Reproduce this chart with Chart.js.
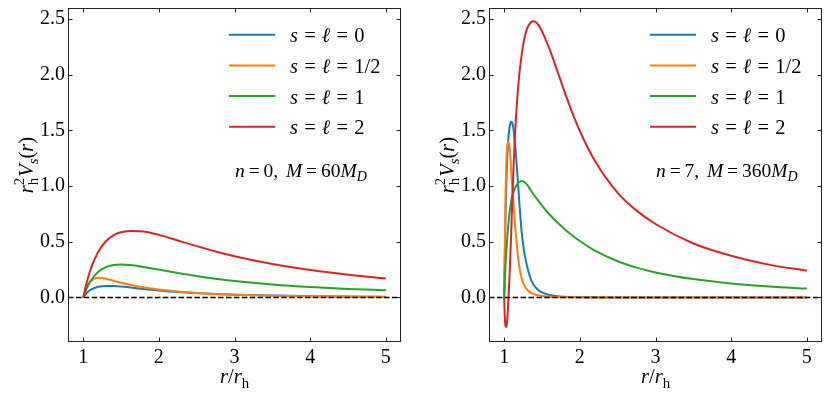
<!DOCTYPE html>
<html>
<head>
<meta charset="utf-8">
<script src="https://cdn.jsdelivr.net/npm/chart.js@4.4.1/dist/chart.umd.min.js"></script>
<style>
  body { margin: 0; background: #fff; width: 831px; height: 399px; position: relative; overflow: hidden; }
  canvas { position: absolute; top: 0; }
  #left-chart { left: 0; }
  #right-chart { left: 420px; }
</style>
</head>
<body>
<canvas id="left-chart" width="410" height="399"></canvas>
<canvas id="right-chart" width="411" height="399"></canvas>
<script>
// tick values and series labels
const xTicks = [1, 2, 3, 4, 5];
const yTicks = [0, 0.5, 1, 1.5, 2, 2.5];
const seriesLabels = ['s = ℓ = 0', 's = ℓ = 1/2', 's = ℓ = 1', 's = ℓ = 2'];
const seriesColors = ['#1f77b4', '#ff7f0e', '#2ca02c', '#d62728'];

// left panel: n = 0, M = 60 M_D
const rLeft = [1, 1.05, 1.1, 1.2, 1.3, 1.4, 1.5, 1.65, 1.8, 2, 2.25, 2.5, 2.75, 3, 3.5, 4, 4.5, 5];
const leftS0 = [0, 0.042, 0.068, 0.096, 0.104, 0.103, 0.098, 0.087, 0.076, 0.063, 0.049, 0.039, 0.031, 0.025, 0.017, 0.012, 0.0085, 0.0065];
const leftS12 = [0, 0.095, 0.145, 0.178, 0.168, 0.150, 0.132, 0.110, 0.091, 0.071, 0.053, 0.040, 0.031, 0.024, 0.015, 0.010, 0.007, 0.005];
const leftS1 = [0, 0.086, 0.150, 0.231, 0.273, 0.292, 0.296, 0.289, 0.274, 0.250, 0.220, 0.192, 0.168, 0.148, 0.117, 0.094, 0.077, 0.064];
const leftS2 = [0, 0.14, 0.255, 0.41, 0.505, 0.558, 0.585, 0.597, 0.592, 0.562, 0.512, 0.461, 0.413, 0.37, 0.30, 0.246, 0.205, 0.171];

// right panel: n = 7, M = 360 M_D
const rRight = [1, 1.01, 1.02, 1.03, 1.045, 1.06, 1.075, 1.09, 1.1, 1.12, 1.14, 1.16, 1.18, 1.2, 1.23, 1.26, 1.3, 1.35, 1.39, 1.45, 1.5, 1.6, 1.7, 1.8, 1.9, 2, 2.2, 2.5, 2.75, 3, 3.5, 4, 4.5, 5];
const rightS0 = [0, 0.40, 0.78, 1.05, 1.31, 1.46, 1.54, 1.575, 1.578, 1.53, 1.40, 1.25, 1.06, 0.86, 0.60, 0.43, 0.29, 0.17, 0.115, 0.068, 0.045, 0.022, 0.012, 0.007, 0.004, 0.0025, 0.001, 0, 0, 0, 0, 0, 0, 0];
const rightS12 = [0, 0.55, 0.98, 1.24, 1.385, 1.395, 1.33, 1.17, 1.06, 0.87, 0.69, 0.53, 0.39, 0.28, 0.175, 0.115, 0.072, 0.043, 0.03, 0.019, 0.014, 0.007, 0.004, 0.002, 0.001, 0.001, 0, 0, 0, 0, 0, 0, 0, 0];
const rightS1 = [0, 0.17, 0.31, 0.42, 0.57, 0.69, 0.78, 0.85, 0.89, 0.94, 0.975, 1.005, 1.025, 1.037, 1.045, 1.04, 1.015, 0.965, 0.925, 0.87, 0.825, 0.745, 0.675, 0.613, 0.557, 0.507, 0.42, 0.325, 0.268, 0.225, 0.165, 0.126, 0.099, 0.08];
const rightS2 = [0, -0.19, -0.26, -0.265, -0.16, 0.03, 0.25, 0.52, 0.72, 1.10, 1.42, 1.66, 1.85, 2.0, 2.17, 2.30, 2.41, 2.47, 2.48, 2.45, 2.39, 2.23, 2.04, 1.845, 1.66, 1.495, 1.225, 0.94, 0.78, 0.66, 0.485, 0.375, 0.295, 0.24];

const FONT = '"Liberation Serif", "DejaVu Serif", serif';
const SIZE = 20;

// draws a row of text pieces (italic / roman / sub / sup)
function drawRuns(ctx, runs, x, y, size, align) {
  const fontOf = r => (r.it ? 'italic ' : '') + (size * (r.s || 1)).toFixed(1) + 'px ' + FONT;
  const widths = runs.map(r => {
    ctx.font = fontOf(r);
    return ctx.measureText(r.t).width + (r.sp || 0) * size;
  });
  let total = 0;
  runs.forEach((r, i) => { if (!r.noAdv) total += widths[i]; });
  let cx = align === 'center' ? x - total / 2 : x;
  ctx.textAlign = 'left';
  ctx.textBaseline = 'alphabetic';
  runs.forEach((r, i) => {
    ctx.font = fontOf(r);
    ctx.fillText(r.t, cx + (r.sp || 0) * size, y + (r.dy || 0) * size);
    if (!r.noAdv) cx += widths[i];
  });
}

function mathRuns(str) {
  let prevEq = false;
  return str.split(' ').map(t => {
    const isEq = t === '=';
    const run = { t: t, it: /^[a-zℓ]$/i.test(t), sp: (isEq || prevEq) ? 0.3 : 0 };
    prevEq = isEq;
    return run;
  });
}

const decorPlugin = {
  id: 'decor',
  afterDraw(chart, args, opts) {
    const { ctx, chartArea: a, scales: { x, y } } = chart;
    ctx.save();
    ctx.fillStyle = '#000';
    ctx.strokeStyle = '#222';
    ctx.lineWidth = 1;
    ctx.strokeRect(a.left + 0.5, a.top + 0.5, a.right - a.left - 1, a.bottom - a.top - 1);

    // inward ticks on all four sides
    ctx.beginPath();
    xTicks.forEach(v => {
      const px = Math.round(x.getPixelForValue(v)) + 0.5;
      ctx.moveTo(px, a.bottom); ctx.lineTo(px, a.bottom - 4.5);
      ctx.moveTo(px, a.top); ctx.lineTo(px, a.top + 4.5);
    });
    yTicks.forEach(v => {
      const py = Math.round(y.getPixelForValue(v)) + 0.5;
      ctx.moveTo(a.left, py); ctx.lineTo(a.left + 4.5, py);
      ctx.moveTo(a.right, py); ctx.lineTo(a.right - 4.5, py);
    });
    ctx.stroke();

    // legend
    chart.data.datasets.slice(0, 4).forEach((ds, i) => {
      const cy = a.top + 26.7 + i * 30.7;
      ctx.strokeStyle = ds.borderColor;
      ctx.lineWidth = 2;
      ctx.beginPath();
      ctx.moveTo(a.left + 161, cy);
      ctx.lineTo(a.left + 207, cy);
      ctx.stroke();
      drawRuns(ctx, mathRuns(ds.label), a.left + 222, cy + 7.5, 20.5, 'left');
    });

    // parameter note
    drawRuns(ctx, opts.note, a.left + 167, 176.5, 19.5, 'left');

    // x title r / r_h
    drawRuns(ctx, [
      { t: 'r', it: true }, { t: '/' }, { t: 'r', it: true }, { t: 'h', s: 0.72, dy: 0.22 }
    ], (a.left + a.right) / 2, a.bottom + 41, 20.5, 'center');

    // y title r_h^2 V_s(r)
    ctx.translate(a.left - 35, (a.top + a.bottom) / 2 - 10);
    ctx.rotate(-Math.PI / 2);
    drawRuns(ctx, [
      { t: 'r', it: true }, { t: '2', s: 0.72, dy: -0.42, noAdv: true }, { t: 'h', s: 0.72, dy: 0.22 },
      { t: 'V', it: true, sp: 0.05 }, { t: 's', it: true, s: 0.72, dy: 0.22 },
      { t: '(' }, { t: 'r', it: true }, { t: ')' }
    ], 0, 0, 20.5, 'center');
    ctx.restore();
  }
};

function pts(rs, vs) {
  return rs.map((r, i) => ({ x: r, y: vs[i] }));
}

function makeChart(id, rs, series, note) {
  const datasets = series.map((vs, i) => ({
    label: seriesLabels[i],
    data: pts(rs, vs),
    borderColor: seriesColors[i],
    borderWidth: 2,
    pointRadius: 0,
    fill: false,
    cubicInterpolationMode: 'monotone',
    order: 4 - i
  }));
  datasets.push({
    label: 'zero',
    data: [{ x: 0.8, y: 0 }, { x: 5.2, y: 0 }],
    borderColor: '#000',
    borderWidth: 1.5,
    borderDash: [5.5, 2.4],
    pointRadius: 0,
    order: 0
  });

  return new Chart(document.getElementById(id).getContext('2d'), {
    type: 'line',
    data: { datasets: datasets },
    options: {
      responsive: false,
      animation: false,
      layout: { padding: { top: 8, right: 9, left: 0, bottom: 0 } },
      scales: {
        x: {
          type: 'linear',
          min: 0.8,
          max: 5.2,
          afterBuildTicks: s => { s.ticks = xTicks.map(v => ({ value: v })); },
          afterFit: s => { s.height = 57; s.paddingLeft = 0; s.paddingRight = 0; },
          ticks: {
            color: '#000',
            font: { family: FONT, size: SIZE },
            padding: 4,
            maxRotation: 0,
            autoSkip: false,
            callback: v => String(v)
          },
          grid: { display: false, drawTicks: false },
          border: { display: false }
        },
        y: {
          type: 'linear',
          min: -0.4,
          max: 2.6,
          afterBuildTicks: s => { s.ticks = yTicks.map(v => ({ value: v })); },
          afterFit: s => { s.width = id === 'left-chart' ? 68 : 69; s.paddingTop = 0; s.paddingBottom = 0; },
          ticks: {
            color: '#000',
            font: { family: FONT, size: SIZE },
            padding: 3,
            autoSkip: false,
            callback: v => v.toFixed(1)
          },
          grid: { display: false, drawTicks: false },
          border: { display: false }
        }
      },
      plugins: {
        legend: { display: false },
        tooltip: { enabled: false },
        decor: { note: note }
      }
    },
    plugins: [decorPlugin]
  });
}

const noteLeft = [
  { t: 'n', it: true }, { t: '=', sp: 0.2 }, { t: '0,', sp: 0.2 },
  { t: 'M', it: true, sp: 0.4 }, { t: '=', sp: 0.2 }, { t: '60', sp: 0.2 },
  { t: 'M', it: true }, { t: 'D', it: true, s: 0.72, dy: 0.25 }
];
const noteRight = [
  { t: 'n', it: true }, { t: '=', sp: 0.2 }, { t: '7,', sp: 0.2 },
  { t: 'M', it: true, sp: 0.4 }, { t: '=', sp: 0.2 }, { t: '360', sp: 0.2 },
  { t: 'M', it: true }, { t: 'D', it: true, s: 0.72, dy: 0.25 }
];

let leftChart = makeChart('left-chart', rLeft, [leftS0, leftS12, leftS1, leftS2], noteLeft);
let rightChart = makeChart('right-chart', rRight, [rightS0, rightS12, rightS1, rightS2], noteRight);
</script>
</body>
</html>
